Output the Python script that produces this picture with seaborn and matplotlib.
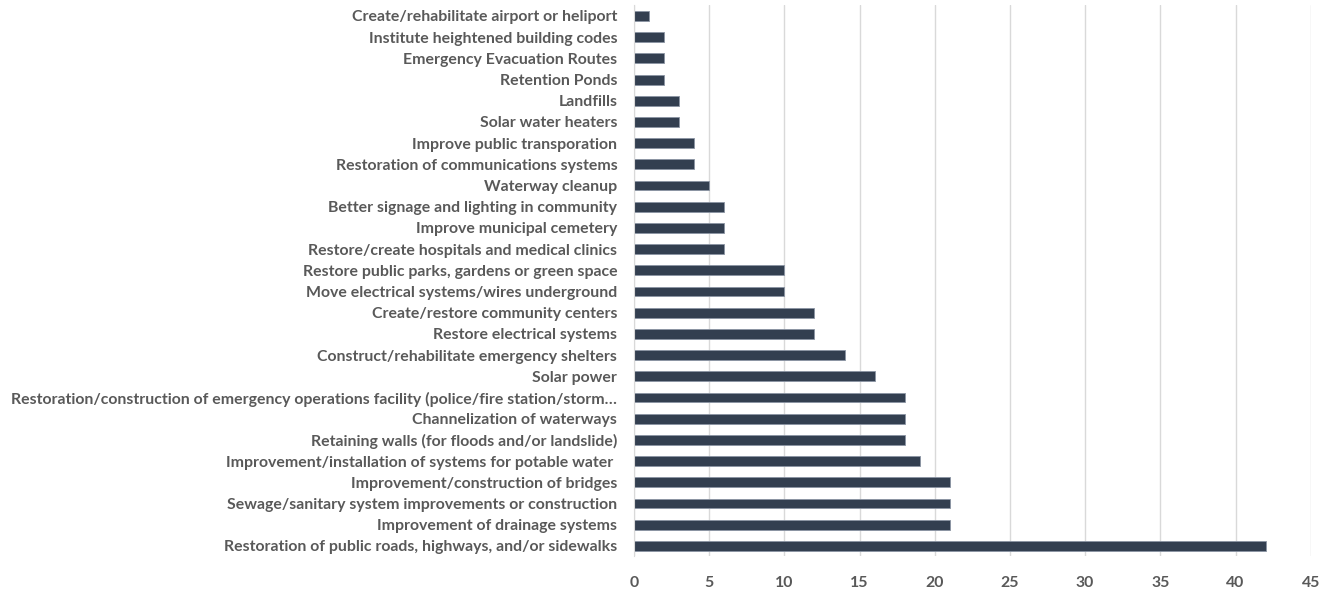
import pandas as pd
import matplotlib.pyplot as plt
import seaborn as sns

# Categories (top to bottom) and counts
projects = [
    "Create/rehabilitate airport or heliport",
    "Institute heightened building codes",
    "Emergency Evacuation Routes",
    "Retention Ponds",
    "Landfills",
    "Solar water heaters",
    "Improve public transporation",
    "Restoration of communications systems",
    "Waterway cleanup",
    "Better signage and lighting in community",
    "Improve municipal cemetery",
    "Restore/create hospitals and medical clinics",
    "Restore public parks, gardens or green space",
    "Move electrical systems/wires underground",
    "Create/restore community centers",
    "Restore electrical systems",
    "Construct/rehabilitate emergency shelters",
    "Solar power",
    "Restoration/construction of emergency operations facility (police/fire station/storm\u2026",
    "Channelization of waterways",
    "Retaining walls (for floods and/or landslide)",
    "Improvement/installation of systems for potable water ",
    "Improvement/construction of bridges",
    "Sewage/sanitary system improvements or construction",
    "Improvement of drainage systems",
    "Restoration of public roads, highways, and/or sidewalks",
]
counts = [1, 2, 2, 2, 3, 3, 4, 4, 5, 6, 6, 6, 10, 10, 12, 12, 14, 16,
          18, 18, 18, 19, 21, 21, 21, 42]
x_ticks = [0, 5, 10, 15, 20, 25, 30, 35, 40, 45]

df = pd.DataFrame({"project": projects, "count": counts})

sns.set_style("white")
plt.rcParams['font.family'] = ['Lato', 'DejaVu Sans']

fig = plt.figure(figsize=(13.32, 5.92), dpi=100)
ax = fig.add_axes([0.476, 0.06, 0.508, 0.931])

sns.barplot(data=df, y="project", x="count", orient="h", color="#333F50",
            width=0.47, edgecolor="#8a94a3", linewidth=0.6, ax=ax,
            saturation=1)

ax.set_xlim(0, 45)
ax.set_ylim(len(projects) - 0.5, -0.5)
ax.set_xticks(x_ticks)
ax.xaxis.grid(True, color="#D9D9D9", linewidth=1)
ax.set_axisbelow(True)
for s in ["top", "right", "bottom"]:
    ax.spines[s].set_visible(False)
ax.spines["left"].set_color("#D9D9D9")
ax.set_xlabel("")
ax.set_ylabel("")
ax.tick_params(axis="both", length=0, colors="#595959", labelsize=11.4)
ax.tick_params(axis="x", pad=14)
ax.tick_params(axis="y", pad=12)
for lbl in ax.get_yticklabels() + ax.get_xticklabels():
    lbl.set_fontweight("bold")

plt.savefig("out.png", dpi=100)
